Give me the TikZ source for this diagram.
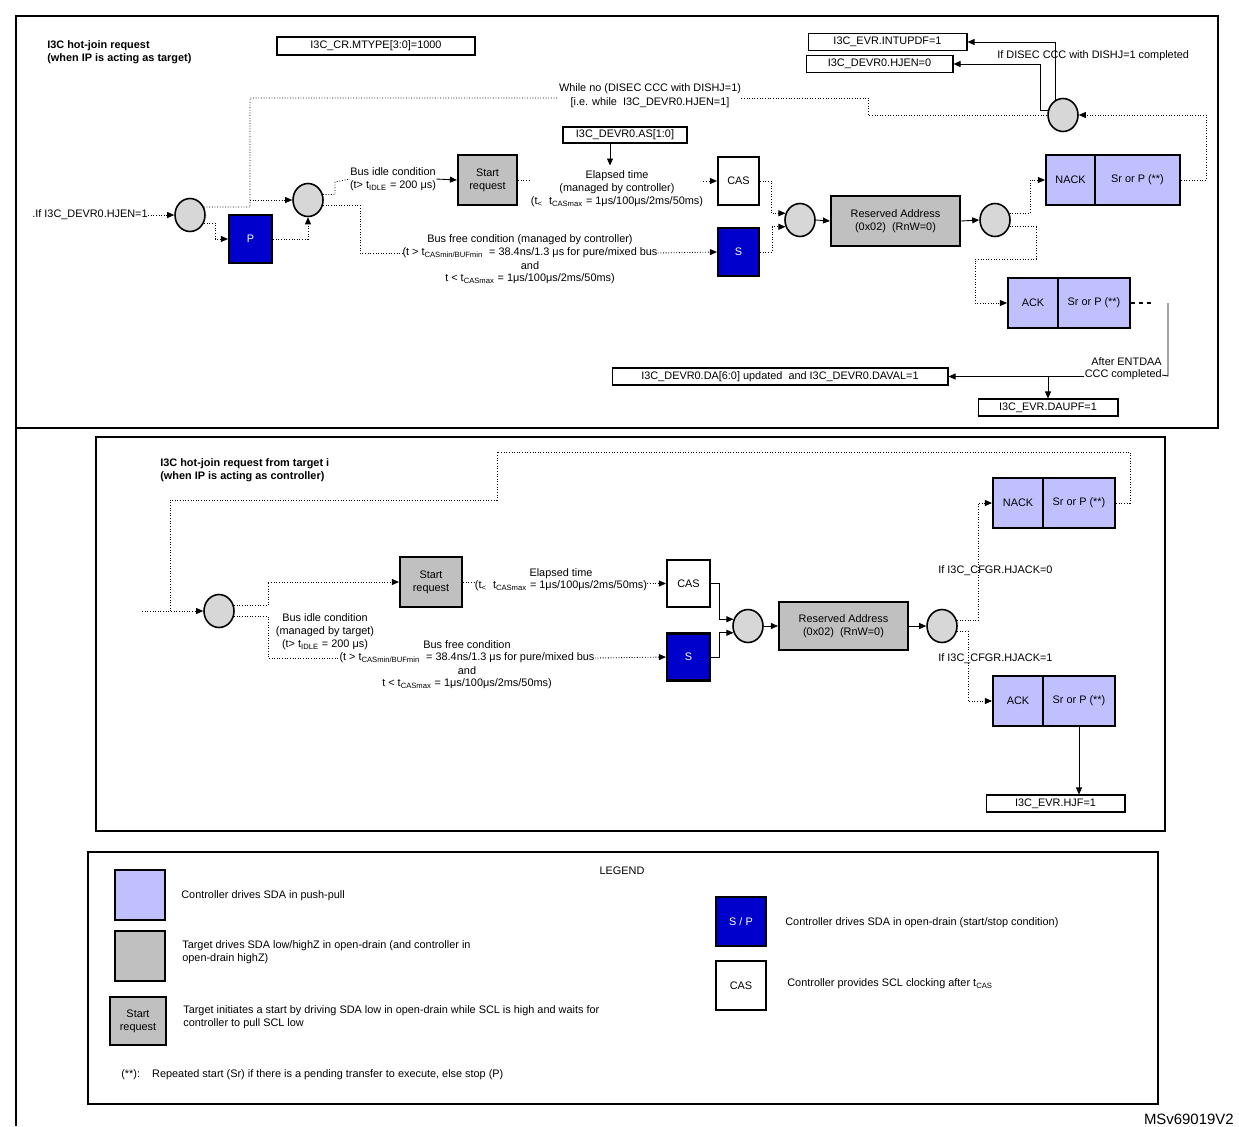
\documentclass[tikz,border=0pt]{standalone}
\usepackage{fontspec}
\setmainfont{Liberation Sans}
\usetikzlibrary{arrows.meta,shapes.geometric}
\definecolor{lav}{RGB}{192,192,255}
\definecolor{gbox}{RGB}{192,192,192}
\definecolor{cir}{RGB}{215,215,215}
\definecolor{dblue}{RGB}{0,0,204}
\newcommand\sbs[1]{\textsubscript{#1}}
\tikzset{
 every node/.style={font=\fontsize{6.2}{7.4}\selectfont, inner sep=0pt},
 tip/.style={-{Triangle[length=4pt,width=3.4pt]}},
 dl/.style={densely dotted, line width=0.5pt},
 sl/.style={line width=0.5pt},
 reg/.style={draw, line width=0.6pt, minimum height=0.36cm},
 lbox/.style={draw, line width=1.2pt, fill=lav, minimum height=1cm},
 gbx/.style={draw, line width=1.2pt, fill=gbox, align=center},
 bbx/.style={draw, line width=1.2pt, fill=dblue, text=white, minimum width=0.86cm, minimum height=0.96cm},
 wbx/.style={draw, line width=1.2pt, fill=white, minimum width=0.82cm, minimum height=0.96cm},
 crc/.style={draw, line width=0.9pt, fill=cir, ellipse, minimum width=0.6cm, minimum height=0.66cm},
 txt/.style={align=center},
}
\begin{document}
\begin{tikzpicture}[x=0.02cm,y=-0.02cm]
\useasboundingbox (0,0) rectangle (1239,1126);
% frames
\draw[line width=0.8pt] (16,16) rectangle (1218,428);
\draw[line width=0.8pt] (16,428) -- (16,1126);
\draw[line width=0.6pt] (96,437) rectangle (1165,831);
\draw[line width=0.6pt] (88,852) rectangle (1158,1104);
\node[anchor=south east, font=\fontsize{8.5}{10}\selectfont] (msv) at (1234,1125) {MSv69019V2};

%===== TOP =====
\node[anchor=north west, align=left, font=\bfseries\fontsize{6.2}{7.4}\selectfont] (t1) at (47,40) {I3C hot-join request\\(when IP is acting as target)};
\node[reg, minimum width=3.96cm] (mtype) at (376,46) {I3C\_CR.MTYPE[3:0]=1000};
\node[reg, minimum width=3.18cm, minimum height=0.34cm] (intup) at (887.5,42) {I3C\_EVR.INTUPDF=1};
\node[reg, minimum width=2.94cm, minimum height=0.34cm] (hjen0) at (879.5,64) {I3C\_DEVR0.HJEN=0};
\node[anchor=west] (disec) at (997,56) {If DISEC CCC with DISHJ=1 completed};
\node[anchor=west] (hjen) at (32,215) {.If I3C\_DEVR0.HJEN=1};
\node[crc] (c1) at (190,215) {};
\node[bbx] (p) at (250.5,239) {P};
\node[crc] (c2) at (308,200) {};
\node[txt] (while) at (650,96) {While no (DISEC CCC with DISHJ=1)\\[0.5pt][i.e. while\ \ I3C\_DEVR0.HJEN=1]};
\node[crc] (c8) at (1063,115) {};
\node[txt] (idle) at (393,179) {Bus idle condition\\(t> t\sbs{IDLE} = 200 μs)};
\node[gbx, minimum width=1.18cm, minimum height=1cm] (start) at (487.5,180) {Start\\request};
\node[reg, minimum width=2.48cm, minimum height=0.32cm] (as) at (625,135) {I3C\_DEVR0.AS[1:0]};
\node[txt] (elap) at (617,189) {Elapsed time\\(managed by controller)\\(t\textsubscript{<}\ \ t\sbs{CASmax} = 1μs/100μs/2ms/50ms)};
\node[wbx] (cas) at (738.5,181) {CAS};
\node[bbx, minimum width=0.82cm] (s) at (738.5,252) {S};
\node (bf1) at (530,240) {Bus free condition (managed by controller)};
\node (bf2) at (530,253) {(t > t\sbs{CASmin/BUFmin}\ \ = 38.4ns/1.3 μs for pure/mixed bus};
\node (bf3) at (530,266) {and};
\node (bf4) at (530,279) {t < t\sbs{CASmax} = 1μs/100μs/2ms/50ms)};
\node[crc] (c3) at (800,220) {};
\node[gbx, minimum width=2.58cm, minimum height=1cm] (res) at (895.5,221) {Reserved Address\\(0x02)\ \ (RnW=0)};
\node[crc] (c4) at (995,220) {};
\node[lbox, minimum width=0.98cm] (nack) at (1070.5,180) {NACK};
\node[lbox, minimum width=1.70cm] (sra) at (1137.5,180) {Sr or P (**)};
\node[lbox, minimum width=1.0cm] (ack) at (1033,303) {ACK};
\node[lbox, minimum width=1.44cm] (srb) at (1094,303) {Sr or P (**)};
\node[anchor=east] (ent1) at (1162,362) {After ENTDAA};
\node[anchor=east] (ent2) at (1162,375) {CCC completed};
\node[reg, minimum width=6.72cm, minimum height=0.34cm] (da) at (780,376.5) {I3C\_DEVR0.DA[6:0] updated\ \ and I3C\_DEVR0.DAVAL=1};
\node[reg, minimum width=2.8cm, minimum height=0.34cm] (daupf) at (1048,407.5) {I3C\_EVR.DAUPF=1};

\draw[dl,tip] (hjen.east) -- (c1.west);
\coordinate (j1) at (250,207);
\draw[dl] (c1.30) -- (j1) -- (250,98) -- (while.west |- 0,98);
\draw[dl,tip] (250,200) -- (c2.west);
\draw[dl] (while.east |- 0,98) -- (868,98) -- (868,115) -- (c8.west);
\draw[dl,tip] (c1.-30) -| (215,239) -- (p.west);
\draw[dl,tip] (p.east) -| (c2.south);
\draw[dl] (c2.20) -| (335,182) -- (idle.west);
\draw[sl,tip] (idle.east) -- (start.west);
\draw[dl] (start.east) -- (elap.west |- start.east);
\draw[sl,tip] ([xshift=-0.3cm]as.south) -- ++(0,22);
\draw[dl,tip] (elap.east |- cas.west) -- (cas.west);
\draw[dl] (c2.-20) -| (360,253) -- (bf2.west);
\draw[dl,tip] (bf2.east) -- (s.west);
\draw[dl,tip] (cas.east) -- ++(11,0) |- (c3.155);
\draw[dl,tip] (s.east) -- ++(12,0) |- (c3.205);
\draw[sl,tip] (c3.east) -- (res.west);
\draw[sl,tip] (res.east) -- (c4.west);
\draw[dl,tip] (c4.25) -| (1030,180) -- (nack.west);
\draw[dl,tip] (c4.-25) -| (1036,259) -| (975,303) -- (ack.west);
\draw[dl,tip] (sra.east) -- ++(25,0) |- (c8.east);
\draw[sl,tip] (c8.165) -| (1040,64) -- (hjen0.east);
\draw[sl,tip] (c8.115) |- (intup.east);
\draw[line width=1.3pt, dash pattern=on 2.5pt off 2pt] (srb.east) -- ++(22,0);
\draw[sl] (1168,303) -- (1168,376) -- (ent2.east);
\draw[sl,tip] (ent2.west |- da.east) -- (da.east);
\draw[sl,tip] (daupf.north |- da.east) -- (daupf.north);

%===== MIDDLE =====
\node[anchor=north west, align=left, font=\bfseries\fontsize{6.2}{7.4}\selectfont] (t2) at (160,458) {I3C hot-join request from target i\\(when IP is acting as controller)};
\coordinate (in) at (142,611);
\node[crc] (c5) at (219,611) {};
\node[txt] (idle2) at (325,632) {Bus idle condition\\(managed by target)\\(t> t\sbs{IDLE} = 200 μs)};
\node[gbx, minimum width=1.24cm, minimum height=1cm] (start2) at (431,582) {Start\\request};
\node (el2a) at (561,574) {Elapsed time};
\node (el2b) at (561,586) {(t\textsubscript{<}\ \ t\sbs{CASmax} = 1μs/100μs/2ms/50ms)};
\node[wbx, minimum width=0.86cm, minimum height=0.94cm] (cas2) at (688.5,583.5) {CAS};
\node[bbx, minimum height=0.94cm] (s2) at (688.5,657) {S};
\node (bg1) at (467,645) {Bus free condition};
\node (bg2) at (467,658) {(t > t\sbs{CASmin/BUFmin}\ \ = 38.4ns/1.3 μs for pure/mixed bus};
\node (bg3) at (467,671) {and};
\node (bg4) at (467,684) {t < t\sbs{CASmax} = 1μs/100μs/2ms/50ms)};
\node[crc] (c6) at (748,626) {};
\node[gbx, minimum width=2.58cm, minimum height=0.96cm] (res2) at (843.5,626) {Reserved Address\\(0x02)\ \ (RnW=0)};
\node[crc] (c7) at (942,626) {};
\node[lbox, minimum width=1.0cm] (nack2) at (1018,503) {NACK};
\node[lbox, minimum width=1.44cm] (src) at (1079,503) {Sr or P (**)};
\node[lbox, minimum width=1.0cm] (ack2) at (1018,701) {ACK};
\node[lbox, minimum width=1.44cm] (srd) at (1079,701) {Sr or P (**)};
\node[anchor=west] (hj0) at (938,571) {If I3C\_CFGR.HJACK=0};
\node[anchor=west] (hj1) at (938,659) {If I3C\_CFGR.HJACK=1};
\node[reg, minimum width=2.78cm, minimum height=0.34cm] (hjf) at (1055.5,803.5) {I3C\_EVR.HJF=1};

\draw[dl,tip] (in) -- (c5.west);
\draw[dl] (src.east) -| (1130,452) -| (497,500) -| (170,611);
\draw[dl,tip] (c5.20) -| (268,582) -- (start2.west);
\draw[dl] (c5.-20) -| (268,658) -- (bg2.west);
\draw[dl,tip] (bg2.east) -- (s2.west);
\draw[dl] (start2.east) -- (el2b.west |- start2.east);
\draw[dl,tip] (el2b.east |- cas2.west) -- (cas2.west);
\draw[sl,tip] (cas2.east) -- ++(8,0) |- (c6.155);
\draw[sl,tip] (s2.east) -- ++(8,0) |- (c6.205);
\draw[sl,tip] (c6.east) -- (res2.west);
\draw[sl,tip] (res2.east) -- (c7.west);
\draw[dl,tip] (c7.20) -| (978,503) -- (nack2.west);
\draw[dl,tip] (c7.-20) -| (968,701) -- (ack2.west);
\draw[sl,tip] (srd.south) -- (srd.south |- hjf.north);

%===== LEGEND =====
\node (leg) at (622,871) {LEGEND};
\node[draw, line width=0.8pt, fill=lav, minimum width=1cm, minimum height=1cm] (l1) at (140,895) {};
\node[anchor=west] (l1t) at (181,896) {Controller drives SDA in push-pull};
\node[draw, line width=0.8pt, fill=gbox, minimum width=1cm, minimum height=1cm] (l2) at (140,956) {};
\node[anchor=west, align=left] (l2t) at (182,952) {Target drives SDA low/highZ in open-drain (and controller in\\open-drain highZ)};
\node[gbx, minimum width=1.12cm, minimum height=0.96cm] (l3) at (138,1021) {Start\\request};
\node[anchor=west, align=left] (l3t) at (183,1017) {Target initiates a start by driving SDA low in open-drain while SCL is high and waits for\\controller to pull SCL low};
\node[anchor=west] (l4t) at (121,1075) {(**):\ \ \ \ Repeated start (Sr) if there is a pending transfer to execute, else stop (P)};
\node[bbx, minimum width=1cm, minimum height=0.98cm] (l5) at (741,921.5) {S / P};
\node[anchor=west] (l5t) at (785,923) {Controller drives SDA in open-drain (start/stop condition)};
\node[wbx, line width=0.8pt, minimum width=1cm, minimum height=0.98cm] (l6) at (741,985.5) {CAS};
\node[anchor=west] (l6t) at (787,984) {Controller provides SCL clocking after t\sbs{CAS}};
\end{tikzpicture}
\end{document}
